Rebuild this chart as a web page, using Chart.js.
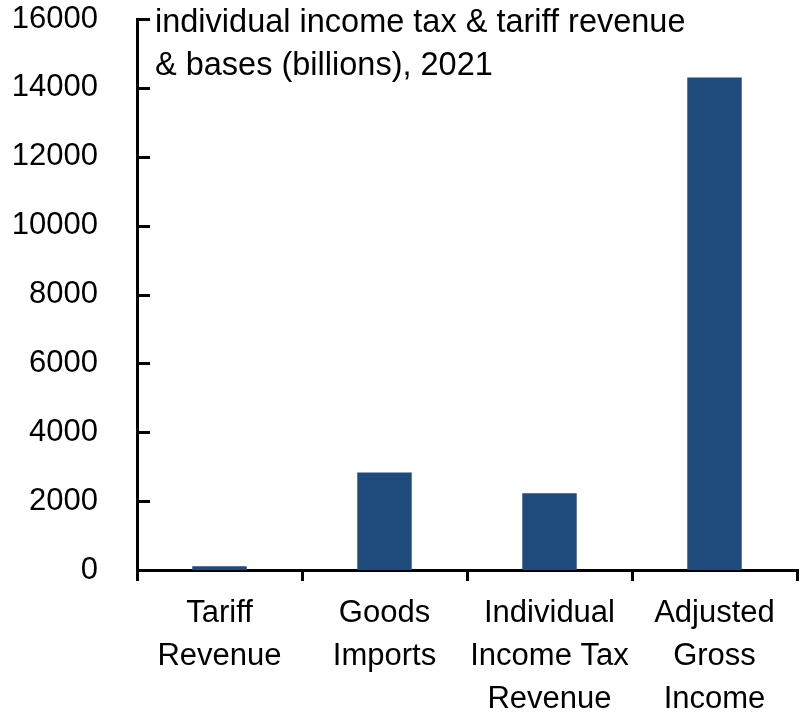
<!DOCTYPE html>
<html>
<head>
<meta charset="utf-8">
<script src="https://cdn.jsdelivr.net/npm/chart.js@4.4.1/dist/chart.umd.min.js"></script>
<style>
  html, body { margin: 0; padding: 0; background: #fff; }
  #wrap { width: 808px; height: 713px; }
</style>
</head>
<body>
<div id="wrap"><canvas id="barChart"></canvas></div>
<script>
// categories, values (billions of dollars) and the y-axis range
const categories = [
    ['Tariff', 'Revenue'],
    ['Goods', 'Imports'],
    ['Individual', 'Income Tax', 'Revenue'],
    ['Adjusted', 'Gross', 'Income']
];
const values = [110, 2830, 2230, 14300];
const yMin = 0;
const yMax = 16000;
const yStep = 2000;
const titleLines = ['individual income tax & tariff revenue', '& bases (billions), 2021'];

const FONT = "'Liberation Sans', Arial, sans-serif";
Chart.defaults.font.family = FONT;
Chart.defaults.color = '#000';

// short tick marks on the inside of the y axis
const innerTicks = {
    id: 'innerTicks',
    afterDraw(chart) {
        const { ctx, chartArea, scales: { y } } = chart;
        ctx.save();
        ctx.strokeStyle = '#000';
        ctx.lineWidth = 3;
        y.ticks.forEach(t => {
            const py = Math.round(y.getPixelForValue(t.value)) + 0.5;
            ctx.beginPath();
            ctx.moveTo(chartArea.left, py);
            ctx.lineTo(chartArea.left + 13, py);
            ctx.stroke();
        });
        ctx.restore();
    }
};

// title written inside the plot, top left
const innerTitle = {
    id: 'innerTitle',
    afterDraw(chart) {
        const { ctx, chartArea } = chart;
        ctx.save();
        ctx.font = '32.5px ' + FONT;
        ctx.fillStyle = '#000';
        ctx.textAlign = 'left';
        ctx.textBaseline = 'middle';
        titleLines.forEach((line, i) => {
            ctx.fillText(line, chartArea.left + 18, chartArea.top + 4 + i * 43);
        });
        ctx.restore();
    }
};

const ctx = document.getElementById('barChart').getContext('2d');
new Chart(ctx, {
    type: 'bar',
    data: {
        labels: categories,
        datasets: [{
            data: values,
            backgroundColor: '#1f4a7c',
            borderWidth: 0,
            categoryPercentage: 1,
            barPercentage: 0.33
        }]
    },
    options: {
        responsive: true,
        maintainAspectRatio: false,
        animation: false,
        layout: { padding: { top: 19, right: 11 } },
        plugins: {
            legend: { display: false },
            tooltip: { enabled: false }
        },
        scales: {
            x: {
                grid: {
                    display: true,
                    drawOnChartArea: false,
                    drawTicks: true,
                    tickLength: 11,
                    offset: true,
                    color: '#000',
                    lineWidth: 3
                },
                border: { color: '#000', width: 3 },
                ticks: {
                    font: { size: 31, lineHeight: 1.387 },
                    padding: 11,
                    maxRotation: 0,
                    autoSkip: false
                },
                afterFit(scale) {
                    scale.height = 143;
                    scale.paddingLeft = 0;
                    scale.paddingRight = 0;
                }
            },
            y: {
                min: yMin,
                max: yMax,
                grid: { display: false },
                border: { color: '#000', width: 3 },
                ticks: {
                    stepSize: yStep,
                    font: { size: 31 },
                    padding: 31,
                    callback: v => String(v)
                },
                afterFit(scale) {
                    scale.width = 137;
                    scale.paddingTop = 0;
                    scale.paddingBottom = 0;
                }
            }
        }
    },
    plugins: [innerTicks, innerTitle]
});
</script>
</body>
</html>
